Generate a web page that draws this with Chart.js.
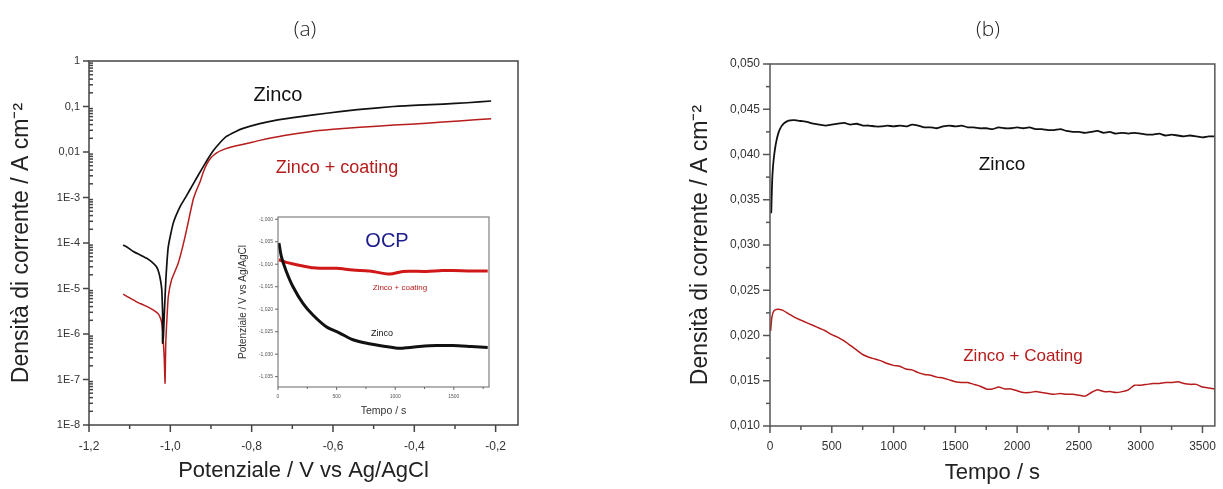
<!DOCTYPE html>
<html><head><meta charset="utf-8">
<script src="https://cdn.jsdelivr.net/npm/chart.js@4.4.1/dist/chart.umd.min.js"></script>
<style>
html,body{margin:0;padding:0;background:#fff;width:1223px;height:489px;overflow:hidden;position:relative;font-family:"Liberation Sans",Arial,sans-serif;}
canvas{position:absolute;}
.t{position:absolute;white-space:nowrap;transform:translate(-50%,-50%);line-height:1;}
</style></head><body>
<canvas id="cPol" width="540" height="449" style="left:0px;top:40px;width:540px;height:449px"></canvas>
<canvas id="cOcp" width="270" height="215" style="left:225px;top:205px;width:270px;height:215px"></canvas>
<canvas id="cCur" width="543" height="449" style="left:680px;top:40px;width:543px;height:449px"></canvas>

<div class="t" style="left:305px;top:28px;font-family:'Open Sans';font-weight:300;font-size:21px;color:#222">(a)</div>
<div class="t" style="left:988px;top:28px;font-family:'Open Sans';font-weight:300;font-size:21px;color:#222">(b)</div>
<div class="t" style="left:278px;top:94px;font-size:20px;color:#111">Zinco</div>
<div class="t" style="left:337px;top:167px;font-size:18px;color:#b71c1c">Zinco + coating</div>
<div class="t" style="left:387px;top:240px;font-size:20px;color:#1c1c8c">OCP</div>
<div class="t" style="left:400px;top:288px;font-size:8px;color:#b71c1c">Zinco + coating</div>
<div class="t" style="left:382px;top:333px;font-size:9px;color:#111">Zinco</div>
<div class="t" style="left:1002px;top:163px;font-size:19px;color:#111">Zinco</div>
<div class="t" style="left:1023px;top:355px;font-size:17px;color:#b71c1c">Zinco + Coating</div>

<script>
// ---------- (a) polarization curves ----------
const potZinco = [-1.116,-1.105,-1.091,-1.075,-1.058,-1.045,-1.034,-1.028,-1.024,-1.021,-1.020,-1.019,-1.019,-1.019,-1.017,-1.015,-1.011,-1.005,-0.993,-0.976,-0.960,-0.945,-0.927,-0.910,-0.895,-0.878,-0.862,-0.840,-0.821,-0.780,-0.739,-0.680,-0.616,-0.540,-0.452,-0.390,-0.329,-0.270,-0.211];
const curZinco = [9.0e-5,8.0e-5,6.5e-5,5.5e-5,4.6e-5,3.8e-5,3.0e-5,2.2e-5,1.5e-5,9.3e-6,5.5e-6,3.0e-6,1.5e-6,6.3e-7,8.7e-7,2.5e-6,1.55e-5,8.3e-5,2.7e-4,6.3e-4,1.1e-3,1.9e-3,3.6e-3,6.5e-3,1.05e-2,1.6e-2,2.2e-2,2.8e-2,3.3e-2,4.2e-2,5.0e-2,6.0e-2,7.1e-2,8.5e-2,1.0e-1,1.07e-1,1.13e-1,1.21e-1,1.32e-1];
const potCoat = [-1.116,-1.100,-1.083,-1.065,-1.050,-1.038,-1.030,-1.024,-1.021,-1.018,-1.015,-1.013,-1.012,-1.011,-1.008,-1.005,-0.997,-0.981,-0.970,-0.960,-0.944,-0.935,-0.927,-0.919,-0.910,-0.900,-0.886,-0.865,-0.845,-0.810,-0.780,-0.720,-0.657,-0.600,-0.534,-0.450,-0.370,-0.290,-0.211];
const curCoat = [7.5e-6,6.2e-6,5.1e-6,4.3e-6,3.7e-6,3.2e-6,2.8e-6,2.2e-6,1.7e-6,9.0e-7,3.0e-7,8.3e-8,2.5e-7,7.4e-7,2.5e-6,6.6e-6,1.55e-5,3.5e-5,8.0e-5,1.95e-4,8.9e-4,1.5e-3,2.2e-3,3.6e-3,5.5e-3,7.5e-3,9.6e-3,1.17e-2,1.32e-2,1.55e-2,1.8e-2,2.3e-2,2.8e-2,3.15e-2,3.5e-2,3.9e-2,4.3e-2,4.8e-2,5.4e-2];
const polXTicks = [-1.2,-1.0,-0.8,-0.6,-0.4,-0.2];
const polXLabels = ['-1,2','-1,0','-0,8','-0,6','-0,4','-0,2'];
const polXMinor = [-1.1,-0.9,-0.7,-0.5,-0.3];
const polYTicks = [1e-8,1e-7,1e-6,1e-5,1e-4,1e-3,1e-2,1e-1,1];
const polYLabels = ['1E-8','1E-7','1E-6','1E-5','1E-4','1E-3','0,01','0,1','1'];

// ---------- (a) inset OCP ----------
const ocpTimeZinco = [8,29,71,128,213,298,412,526,639,781,923,1037,1120,1207,1350,1491,1650,1789];
const ocpZinco = [-1.0053,-1.0083,-1.0116,-1.0150,-1.0187,-1.0213,-1.0239,-1.0253,-1.0268,-1.0277,-1.0283,-1.0287,-1.0285,-1.0283,-1.0281,-1.0281,-1.0283,-1.0285];
const ocpTimeCoat = [8,71,140,213,300,355,497,639,781,952,1065,1264,1400,1491,1650,1789];
const ocpCoat = [-1.0090,-1.0096,-1.0100,-1.0104,-1.0108,-1.0109,-1.0109,-1.0113,-1.0115,-1.0122,-1.0116,-1.0116,-1.0114,-1.0114,-1.0115,-1.0115];
const ocpXTicks = [0,500,1000,1500];
const ocpXLabels = ['0','500','1000','1500'];
const ocpXMinor = [250,750,1250,1750];
const ocpYTicks = [-1.000,-1.005,-1.010,-1.015,-1.020,-1.025,-1.030,-1.035];
const ocpYLabels = ['-1,000','-1,005','-1,010','-1,015','-1,020','-1,025','-1,030','-1,035'];

// ---------- (b) current density vs time ----------
const timeZinco = [10,15,20,30,45,60,80,110,150,200,250,300,350,400,450,500,550,600,650,700,750,800,850,900,950,1000,1050,1100,1150,1200,1250,1300,1350,1400,1450,1500,1550,1600,1650,1700,1750,1800,1850,1900,1950,2000,2050,2100,2150,2200,2250,2300,2350,2400,2450,2500,2550,2600,2650,2700,2750,2800,2850,2900,2950,3000,3050,3100,3150,3200,3250,3300,3350,3400,3450,3500,3550,3600];
const curTZinco = [0.0335,0.0360,0.0378,0.0395,0.0410,0.0420,0.0428,0.0434,0.04375,0.0438,0.0437,0.0436,0.0434,0.0433,0.0432,0.0433,0.0434,0.0435,0.0433,0.0434,0.0432,0.0432,0.0431,0.0431,0.0432,0.0431,0.0432,0.0431,0.0433,0.0432,0.0430,0.0430,0.0429,0.0431,0.0432,0.0431,0.0432,0.0430,0.0430,0.0429,0.0429,0.0428,0.0430,0.0429,0.0429,0.0430,0.0429,0.0430,0.0428,0.0428,0.0427,0.0427,0.0428,0.0426,0.0425,0.0425,0.0424,0.0425,0.0426,0.0424,0.0425,0.0423,0.0424,0.0423,0.0424,0.0423,0.0422,0.0422,0.0423,0.0421,0.0422,0.0421,0.0420,0.0421,0.0420,0.0419,0.0420,0.0420];
const timeCoat = [5,15,30,60,100,150,200,250,300,350,400,450,500,550,600,650,700,750,800,850,900,950,1000,1050,1100,1150,1200,1250,1300,1350,1400,1450,1500,1550,1600,1650,1700,1750,1800,1850,1900,1950,2000,2050,2100,2150,2200,2250,2300,2350,2400,2450,2500,2550,2600,2650,2700,2750,2800,2850,2900,2950,3000,3050,3100,3150,3200,3250,3300,3350,3400,3450,3500,3550,3600];
const curTCoat = [0.0205,0.0220,0.0227,0.0229,0.0228,0.0224,0.0220,0.0217,0.0214,0.0211,0.0208,0.0205,0.0201,0.0198,0.0194,0.0189,0.0184,0.0179,0.0176,0.0174,0.0172,0.0169,0.0167,0.0166,0.0163,0.0162,0.0159,0.0157,0.0156,0.0154,0.0153,0.0151,0.0149,0.0148,0.0148,0.0146,0.0144,0.0141,0.0141,0.0143,0.0141,0.0141,0.0139,0.0137,0.0137,0.0138,0.0137,0.0136,0.0135,0.0136,0.0135,0.0135,0.0134,0.0133,0.0137,0.0140,0.0138,0.0138,0.0137,0.0138,0.0140,0.0145,0.0145,0.0146,0.0147,0.0147,0.0148,0.0148,0.0149,0.0147,0.0146,0.0146,0.0143,0.0142,0.0141];
const curXTicks = [0,500,1000,1500,2000,2500,3000,3500];
const curXLabels = ['0','500','1000','1500','2000','2500','3000','3500'];
const curXMinor = [250,750,1250,1750,2250,2750,3250];
const curYTicks = [0.010,0.015,0.020,0.025,0.030,0.035,0.040,0.045,0.050];
const curYLabels = ['0,010','0,015','0,020','0,025','0,030','0,035','0,040','0,045','0,050'];
const curYMinor = [0.0125,0.0175,0.0225,0.0275,0.0325,0.0375,0.0425,0.0475];

const logMinor = [];
for (let d = -8; d < 0; d++) for (let m = 2; m <= 9; m++) logMinor.push(m * Math.pow(10, d));

Chart.defaults.font.family = '"Liberation Sans", Arial, sans-serif';
Chart.defaults.color = '#333';

function makeFrame(cfg) {
  return {
    id: 'frame',
    afterDraw(chart) {
      const {ctx, chartArea: a} = chart;
      ctx.save();
      ctx.strokeStyle = cfg.color; ctx.lineWidth = cfg.width;
      ctx.strokeRect(a.left, a.top, a.right - a.left, a.bottom - a.top);
      cfg.axes.forEach(ax => {
        const s = chart.scales[ax.id];
        const horiz = s.isHorizontal();
        const draw = (vals, len) => vals.forEach(v => {
          const p = s.getPixelForValue(v);
          ctx.beginPath();
          if (horiz) { ctx.moveTo(p, a.bottom); ctx.lineTo(p, a.bottom + len); }
          else { ctx.moveTo(a.left, p); ctx.lineTo(a.left - len, p); }
          ctx.stroke();
        });
        draw(ax.major, ax.majorLen);
        draw(ax.minor, ax.minorLen);
      });
      ctx.restore();
    }
  };
}
const pts = (xs, ys) => xs.map((x, i) => ({x: x, y: ys[i]}));
const baseOpts = {responsive: false, animation: false, devicePixelRatio: 1, events: [],
  plugins: {legend: {display: false}, tooltip: {enabled: false}}};
const hiddenGrid = (len) => ({display: true, drawOnChartArea: false, drawTicks: true, tickLength: len, color: 'transparent'});

// (a)
new Chart(document.getElementById('cPol'), {
  type: 'scatter',
  data: {datasets: [
    {data: pts(potZinco, curZinco), showLine: true, borderColor: '#111', borderWidth: 1.7, pointRadius: 0, tension: 0.15},
    {data: pts(potCoat, curCoat), showLine: true, borderColor: '#b71c1c', borderWidth: 1.5, pointRadius: 0, tension: 0.15}
  ]},
  options: Object.assign({}, baseOpts, {
    layout: {padding: {top: 21, right: 22, left: 0, bottom: 0}},
    scales: {
      x: {type: 'linear', min: -1.2, max: -0.145,
        afterBuildTicks: s => { s.ticks = polXTicks.map(v => ({value: v})); },
        afterFit: s => { s.height = 64; },
        grid: hiddenGrid(6), border: {display: false},
        ticks: {autoSkip: false, maxRotation: 0, padding: 8, color: '#333', font: {size: 12}, callback: (v, i) => polXLabels[i]},
        title: {display: true, text: 'Potenziale / V vs Ag/AgCl', color: '#222', font: {size: 22}, padding: {top: 0, bottom: 5}}},
      y: {type: 'logarithmic', min: 1e-8, max: 1,
        afterBuildTicks: s => { s.ticks = polYTicks.map(v => ({value: v})); },
        afterFit: s => { s.width = 89; },
        grid: hiddenGrid(6), border: {display: false},
        ticks: {autoSkip: false, padding: 3, color: '#333', font: {size: 11}, callback: (v, i) => polYLabels[i]},
        title: {display: true, text: 'Densità di corrente / A cm⁻²', color: '#222', font: {size: 23}, padding: {top: 8, bottom: 0}}}
    }
  }),
  plugins: [makeFrame({color: '#444', width: 1.5, axes: [
    {id: 'x', major: polXTicks, majorLen: 7, minor: polXMinor, minorLen: 4},
    {id: 'y', major: polYTicks, majorLen: 6, minor: logMinor, minorLen: -4}
  ]})]
});

// inset
new Chart(document.getElementById('cOcp'), {
  type: 'scatter',
  data: {datasets: [
    {data: pts(ocpTimeZinco, ocpZinco), showLine: true, borderColor: '#111', borderWidth: 3, pointRadius: 0, tension: 0.3},
    {data: pts(ocpTimeCoat, ocpCoat), showLine: true, borderColor: '#d01818', borderWidth: 3, pointRadius: 0, tension: 0.3}
  ]},
  options: Object.assign({}, baseOpts, {
    layout: {padding: {top: 12, right: 6, left: 0, bottom: 0}},
    scales: {
      x: {type: 'linear', min: 0, max: 1800,
        afterBuildTicks: s => { s.ticks = ocpXTicks.map(v => ({value: v})); },
        afterFit: s => { s.height = 33; },
        grid: hiddenGrid(3), border: {display: false},
        ticks: {autoSkip: false, maxRotation: 0, padding: 4, color: '#555', font: {size: 5}, callback: (v, i) => ocpXLabels[i]},
        title: {display: true, text: 'Tempo / s', color: '#333', font: {size: 10.5}, padding: {top: 0, bottom: 3}}},
      y: {type: 'linear', min: -1.0373, max: -0.9995,
        afterBuildTicks: s => { s.ticks = ocpYTicks.map(v => ({value: v})); },
        afterFit: s => { s.width = 53; },
        grid: hiddenGrid(3), border: {display: false},
        ticks: {autoSkip: false, padding: 2, color: '#555', font: {size: 5}, callback: (v, i) => ocpYLabels[i]},
        title: {display: true, text: 'Potenziale / V vs Ag/AgCl', color: '#333', font: {size: 10}, padding: {top: 12, bottom: 0}}}
    }
  }),
  plugins: [makeFrame({color: '#666', width: 1, axes: [
    {id: 'x', major: ocpXTicks, majorLen: 3, minor: ocpXMinor, minorLen: 2},
    {id: 'y', major: ocpYTicks, majorLen: 3, minor: [], minorLen: 2}
  ]})]
});

// (b)
new Chart(document.getElementById('cCur'), {
  type: 'scatter',
  data: {datasets: [
    {data: pts(timeZinco, curTZinco), showLine: true, borderColor: '#111', borderWidth: 1.8, pointRadius: 0, tension: 0.2},
    {data: pts(timeCoat, curTCoat), showLine: true, borderColor: '#b71c1c', borderWidth: 1.5, pointRadius: 0, tension: 0.2}
  ]},
  options: Object.assign({}, baseOpts, {
    layout: {padding: {top: 24, right: 6, left: 0, bottom: 0}},
    scales: {
      x: {type: 'linear', min: 0, max: 3600,
        afterBuildTicks: s => { s.ticks = curXTicks.map(v => ({value: v})); },
        afterFit: s => { s.height = 63; },
        grid: hiddenGrid(6), border: {display: false},
        ticks: {autoSkip: false, maxRotation: 0, padding: 7, color: '#333', font: {size: 12}, callback: (v, i) => curXLabels[i]},
        title: {display: true, text: 'Tempo / s', color: '#222', font: {size: 22}, padding: {top: 0, bottom: 3}}},
      y: {type: 'linear', min: 0.010, max: 0.050,
        afterBuildTicks: s => { s.ticks = curYTicks.map(v => ({value: v})); },
        afterFit: s => { s.width = 90; },
        grid: hiddenGrid(6), border: {display: false},
        ticks: {autoSkip: false, padding: 4, color: '#333', font: {size: 12}, callback: (v, i) => curYLabels[i]},
        title: {display: true, text: 'Densità di corrente / A cm⁻²', color: '#222', font: {size: 23}, padding: {top: 7, bottom: 0}}}
    }
  }),
  plugins: [makeFrame({color: '#555', width: 1.5, axes: [
    {id: 'x', major: curXTicks, majorLen: 7, minor: curXMinor, minorLen: 4},
    {id: 'y', major: curYTicks, majorLen: 7, minor: curYMinor, minorLen: 4}
  ]})]
});
</script>
</body></html>
